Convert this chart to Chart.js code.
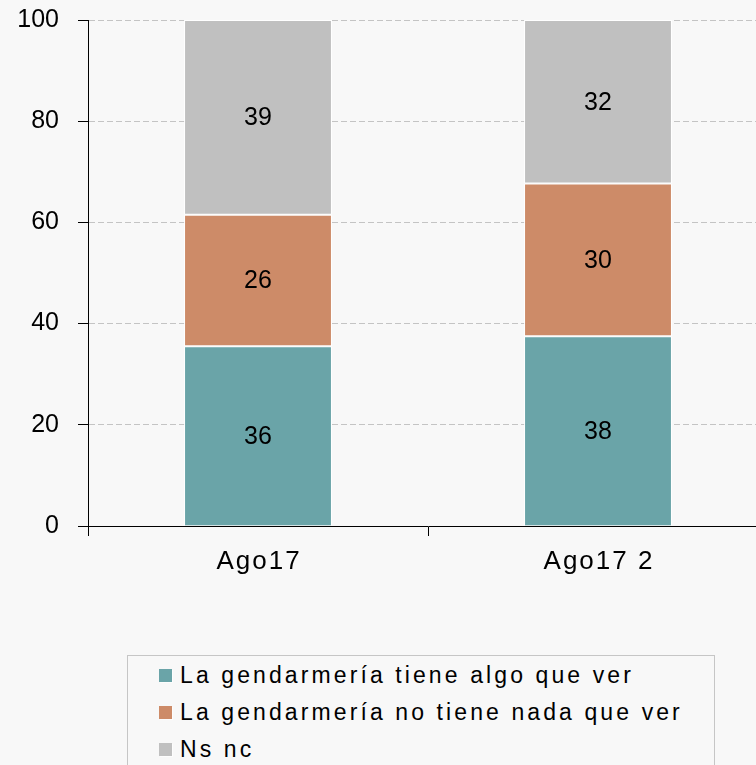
<!DOCTYPE html>
<html><head><meta charset="utf-8">
<script src="https://cdn.jsdelivr.net/npm/chart.js@4"></script>
<style>
html,body{margin:0;padding:0;background:#F8F8F8;}
body{width:756px;height:765px;overflow:hidden;position:relative;font-family:'Liberation Sans',Arial,sans-serif;}
#c{position:absolute;left:0;top:0;}
#legend{position:absolute;left:127px;top:655px;width:588px;height:140px;border:1px solid #C6C6C6;box-sizing:border-box;padding:1px 0 0 31px;}
.item{display:flex;align-items:center;height:37px;font-size:23px;letter-spacing:3.1px;color:#000;white-space:nowrap;}
.sw{width:13px;height:13px;margin-right:8px;flex:none;box-shadow:1px 1px 0 rgba(255,255,255,0.7);}
</style></head><body>
<canvas id="c" width="768" height="576"></canvas>
<div id="legend"></div>
<script>
// ---- data ----
const categories = ['Ago17', 'Ago17 2'];
const seriesNames = ['La gendarmería tiene algo que ver', 'La gendarmería no tiene nada que ver', 'Ns nc'];
const algoQueVer = [35.5, 37.5];
const nadaQueVer = [26, 30.2];
const nsNc = [38.5, 32.3];
const yTickValues = [0, 20, 40, 60, 80, 100];

// ---- styles ----
const seriesColors = ['#6AA4A8', '#CD8B68', '#C0C0C0'];
const FONT = "'Liberation Sans', Arial, sans-serif";

const labelPlugin = {
  id: 'segLabels',
  afterDatasetsDraw(chart) {
    const ctx = chart.ctx;
    ctx.save();
    ctx.font = '25px ' + FONT;
    ctx.letterSpacing = '0px';
    ctx.fillStyle = '#000';
    ctx.textAlign = 'center';
    ctx.textBaseline = 'middle';
    chart.data.datasets.forEach((ds, i) => {
      const meta = chart.getDatasetMeta(i);
      meta.data.forEach((el, j) => {
        const p = el.getProps(['x', 'y', 'base'], true);
        ctx.fillText(String(Math.round(ds.data[j])), p.x, (p.y + p.base) / 2 + 1);
      });
    });
    ctx.restore();
  }
};

const resetSpacing = {
  id: 'resetSpacing',
  beforeDraw(chart) { chart.ctx.letterSpacing = '0px'; }
};

const seriesData = [algoQueVer, nadaQueVer, nsNc];
const datasets = seriesNames.map((name, i) => ({
  label: name,
  data: seriesData[i],
  backgroundColor: seriesColors[i],
  borderColor: '#FFFFFF',
  borderWidth: i === 0 ? {top: 1, left: 1, right: 1, bottom: 0} : 1,
  borderSkipped: false,
  barPercentage: 0.435,
  categoryPercentage: 1.0
}));

Chart.defaults.font.family = FONT;
Chart.defaults.color = '#000';

const chart = new Chart(document.getElementById('c'), {
  type: 'bar',
  data: { labels: categories, datasets },
  options: {
    responsive: false,
    animation: false,
    devicePixelRatio: 1,
    layout: { padding: { top: 20, left: 0, right: 0, bottom: 0 } },
    plugins: { legend: { display: false }, tooltip: { enabled: false } },
    scales: {
      x: {
        stacked: true,
        grid: { offset: true, drawOnChartArea: false, tickLength: 10, tickColor: '#000', color: '#000' },
        border: { color: '#000', width: 1, z: 1 },
        ticks: { padding: 10, color: '#000', font: { size: 26 }, maxRotation: 0 },
        afterFit(s) { s.height = 50; s.paddingLeft = 0; s.paddingRight = 0; }
      },
      y: {
        stacked: true,
        min: 0, max: 100,
        afterBuildTicks(s) { s.ticks = yTickValues.map(v => ({ value: v })); },
        ticks: { padding: 19, color: '#000', font: { size: 25 } },
        grid: { color: '#C4C4C4', lineWidth: 1, tickColor: '#000', tickLength: 10, tickBorderDash: [] },
        border: { color: '#000', width: 1, dash: [6, 3], z: 1 },
        afterFit(s) { s.width = 88; s.paddingTop = 0; s.paddingBottom = 0; }
      }
    }
  },
  plugins: [resetSpacing, labelPlugin]
});

// x-axis category labels are drawn with a little letter spacing
const xScale = chart.scales.x;
const origDrawLabels = xScale.drawLabels.bind(xScale);
xScale.drawLabels = function (area) {
  const ctx = this.ctx;
  ctx.save();
  ctx.letterSpacing = '2px';
  ctx.translate(1, 0);
  origDrawLabels(area);
  ctx.restore();
};
chart.draw();

// HTML legend built from the chart's datasets
const legend = document.getElementById('legend');
chart.data.datasets.forEach(ds => {
  const item = document.createElement('div');
  item.className = 'item';
  const sw = document.createElement('span');
  sw.className = 'sw';
  sw.style.background = ds.backgroundColor;
  const t = document.createElement('span');
  t.textContent = ds.label;
  item.appendChild(sw);
  item.appendChild(t);
  legend.appendChild(item);
});
</script>
</body></html>
